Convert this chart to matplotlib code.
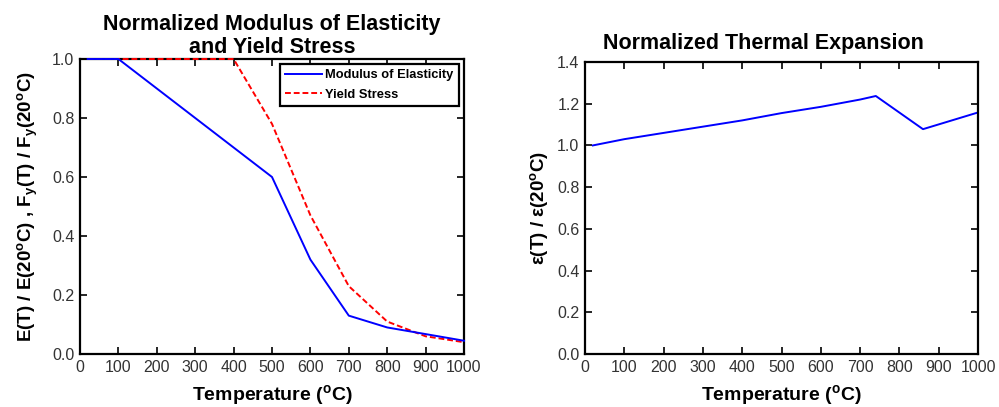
import matplotlib
matplotlib.use("Agg")
import matplotlib.pyplot as plt

plt.rcParams['font.family'] = ['Liberation Sans', 'DejaVu Sans']
plt.rcParams['mathtext.default'] = 'regular'

# temperatures (deg C) and normalized properties
temp_e = [20, 100, 200, 300, 400, 500, 600, 700, 800, 900, 1000]
modulus = [1.0, 1.0, 0.9, 0.8, 0.7, 0.6, 0.32, 0.13, 0.09, 0.0675, 0.045]

temp_fy = [20, 100, 200, 300, 400, 500, 600, 700, 800, 900, 1000]
yield_stress = [1.0, 1.0, 1.0, 1.0, 1.0, 0.78, 0.47, 0.23, 0.11, 0.06, 0.04]

temp_th = [20, 100, 200, 300, 400, 500, 600, 700, 740, 860, 1000]
thermal = [1.0, 1.03, 1.06, 1.09, 1.12, 1.155, 1.185, 1.22, 1.237, 1.078, 1.158]

x_ticks = [0, 100, 200, 300, 400, 500, 600, 700, 800, 900, 1000]

fig = plt.figure(figsize=(9.99, 4.07), dpi=100)
ax1 = fig.add_axes([80 / 999, 53 / 407, 384 / 999, 295 / 407])
ax2 = fig.add_axes([585 / 999, 53 / 407, 393 / 999, 292 / 407])


def style_axes(ax):
    ax.tick_params(direction='in', top=True, right=True, length=5, width=1.2,
                   labelsize=11.5, labelcolor='#333333', pad=4)
    for sp in ax.spines.values():
        sp.set_linewidth(1.6)
    ax.set_xticks(x_ticks)
    ax.set_xlim(0, 1000)
    ax.set_xlabel('Temperature ($^o$C)', fontsize=14, fontweight='bold', labelpad=6)


# Plot 1: modulus and yield stress
ax1.plot(temp_e, modulus, color='blue', lw=1.4, label='Modulus of Elasticity',
         clip_on=False, zorder=4)
ax1.plot(temp_fy, yield_stress, color='red', lw=1.4, ls=(0, (3, 1.5)), label='Yield Stress',
         clip_on=False, zorder=3)
style_axes(ax1)
ax1.set_ylim(0, 1.0)
ax1.set_yticks([0, 0.2, 0.4, 0.6, 0.8, 1.0])
ax1.set_yticklabels(['0.0', '0.2', '0.4', '0.6', '0.8', '1.0'])
ax1.set_ylabel('E(T) / E(20$^o$C) , F$_y$(T) / F$_y$(20$^o$C)',
               fontsize=13.5, fontweight='bold', labelpad=9)
ax1.set_title('Normalized Modulus of Elasticity\nand Yield Stress',
              fontsize=15.5, fontweight='bold', pad=4, linespacing=1.15)
leg = ax1.legend(loc='upper right', fancybox=False, edgecolor='black', framealpha=1,
                 prop={'weight': 'bold', 'size': 9.3}, handlelength=2.8,
                 borderaxespad=0.35, borderpad=0.45, labelspacing=0.55, handletextpad=0.3)
leg.get_frame().set_linewidth(1.6)
leg.set_zorder(5)

# Plot 2: thermal expansion
ax2.plot(temp_th, thermal, color='blue', lw=1.4)
style_axes(ax2)
ax2.set_ylim(0, 1.4)
ax2.set_yticks([0, 0.2, 0.4, 0.6, 0.8, 1.0, 1.2, 1.4])
ax2.set_yticklabels(['0.0', '0.2', '0.4', '0.6', '0.8', '1.0', '1.2', '1.4'])
ax2.set_ylabel('\u03b5(T) / \u03b5(20$^o$C)', fontsize=13.5, fontweight='bold', labelpad=5)
ax2.set_title('Normalized Thermal Expansion', fontsize=15.5, fontweight='bold', pad=9, x=0.455)

fig.savefig('out.png', dpi=100)
